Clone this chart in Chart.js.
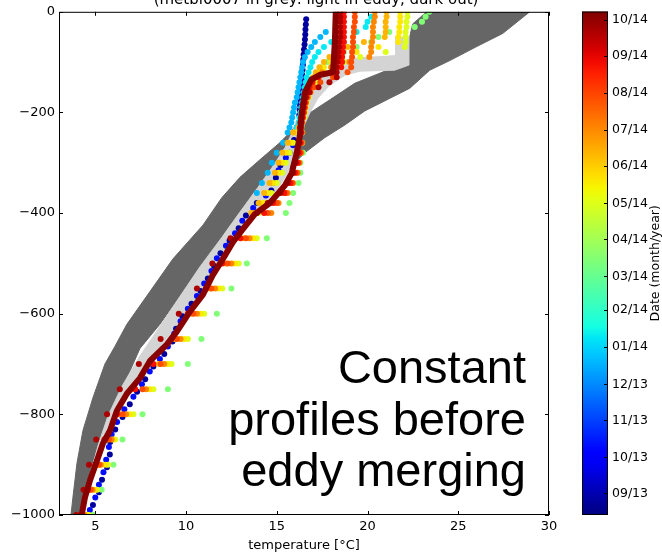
<!DOCTYPE html>
<html>
<head>
<meta charset="utf-8">
<script src="https://cdn.jsdelivr.net/npm/chart.js@4.4.1/dist/chart.umd.min.js"></script>
<style>
  html, body { margin: 0; padding: 0; background: #fff; }
  #wrap { position: relative; width: 662px; height: 553px; overflow: hidden; }
  #profiles { position: absolute; left: 0; top: 0; }
  #colorbar { position: absolute; left: 560px; top: 0; }
</style>
</head>
<body>
<div id="wrap">
  <canvas id="profiles" width="662" height="553"></canvas>
  <canvas id="colorbar" width="102" height="553"></canvas>
</div>
<script>
// axes
const xTicks = [5, 10, 15, 20, 25, 30];
const yTicks = [0, -200, -400, -600, -800, -1000];
const titleText = '(metbl0007 in grey: light in eddy, dark out)';
const noteLines = ['Constant', 'profiles before', 'eddy merging'];

// colorbar dates
const cbStart = '2013-08-14';
const cbEnd = '2014-10-08';
const monthTicks = ['2013-09-01', '2013-10-01', '2013-11-01', '2013-12-01', '2014-01-01', '2014-02-01', '2014-03-01',
  '2014-04-01', '2014-05-01', '2014-06-01', '2014-07-01', '2014-08-01', '2014-09-01', '2014-10-01'];

// metbl0007 outside the eddy (dark grey): cold and warm edge of the cloud
const outColdT = [23.26, 22.49, 22.33, 22.22, 21.78, 20.68, 19.30, 17.92, 16.82, 16.11, 15.17, 14.07, 12.97, 11.98, 10.93, 9.28, 8.01, 6.74, 6.08, 5.53, 4.87, 4.32, 3.99, 3.77, 3.66];
const outColdZ = [0, -24, -49, -83, -106, -122, -142, -175, -201, -225, -260, -294, -329, -369, -424, -491, -556, -621, -665, -700, -767, -832, -897, -964, -1000];
const outWarmT = [28.94, 27.45, 26.02, 24.53, 23.43, 22.33, 21.23, 19.85, 18.75, 17.65, 16.55, 15.72, 14.89, 14.18, 13.24, 12.42, 11.15, 9.83, 8.56, 7.46, 6.91, 6.19, 5.42, 4.87, 4.38, 4.10];
const outWarmZ = [0, -43, -69, -97, -116, -152, -172, -197, -225, -250, -280, -310, -339, -363, -392, -424, -491, -556, -621, -669, -714, -767, -832, -897, -964, -1000];
// metbl0007 inside the eddy (light grey)
const inColdT = [21.56, 21.56, 19.02, 18.2, 17.37, 16.71, 16.27, 15.89, 15.45, 14.73, 13.96, 12.97, 11.98, 10.76, 9.66, 8.56, 7.46, 6.47, 5.70, 5.15, 4.71, 4.30, 4.10];
const inColdZ = [-49, -87, -93, -106, -132, -166, -201, -237, -270, -310, -349, -398, -448, -507, -566, -625, -684, -744, -803, -862, -921, -980, -1000];
const inWarmT = [22.27, 22.27, 21.5, 19.58, 18.75, 17.92, 17.26, 16.82, 16.44, 16.11, 15.61, 15.17, 14.40, 13.63, 12.97, 12.42, 11.87, 11.32, 10.76, 10.05, 9.33, 8.73, 7.85, 7.30, 6.58, 6.03, 5.59, 5.26, 4.93, 4.60, 4.38, 4.21];
const inWarmZ = [-49, -106, -116, -118, -126, -146, -172, -201, -231, -260, -320, -345, -379, -402, -432, -458, -491, -523, -562, -596, -635, -661, -694, -728, -759, -793, -832, -858, -892, -931, -965, -1000];

// last float profile (thick dark red line)
const mainDate = '2014-10-05';
const mainT = [18.25, 18.2, 18.1, 17.4, 16.9, 16.55, 16.38, 16.27, 16.1, 15.83, 15.45, 14.62, 13.79, 13.13, 12.58, 12.03, 11.48, 10.93, 10.21, 9.5, 8.95, 8.01, 7.46, 6.74, 6.19, 5.81, 5.42, 5.09, 4.71, 4.43, 4.27];
const mainZ = [0, -60, -120, -125, -135, -160, -200, -247, -280, -320, -345, -380, -402, -432, -458, -491, -523, -562, -596, -635, -661, -694, -728, -759, -793, -832, -858, -892, -931, -965, -996];

// 2013 profiles, own sampling depths
const navyZ = [-15, -25, -35, -45, -55, -65, -75, -85, -95, -105, -115, -125, -135, -145, -155, -165, -175, -185, -195, -205,
  -230, -255, -280, -305, -330, -355, -380, -405, -430, -455, -480, -505, -530, -555, -580, -605, -630, -655, -680, -705,
  -730, -755, -780, -805, -830, -855, -880, -905, -930, -955, -980];
const navyT = [16.62, 16.6, 16.58, 16.57, 16.55, 16.53, 16.5, 16.48, 16.46, 16.44, 16.42, 16.4, 16.38, 16.36, 16.34, 16.32, 16.3, 16.28, 16.26, 16.24,
  16.1, 15.95, 15.7, 15.2, 14.95, 14.7, 13.9, 13.3, 12.9, 12.4, 11.9, 11.55, 11.2, 10.8, 10.3, 9.8, 9.45, 9.25, 8.8, 8.2,
  7.75, 7.3, 6.9, 6.5, 6.1, 5.82, 5.8, 5.64, 5.37, 5.2, 4.87];
const blueZ = [-240, -265, -290, -315, -340, -365, -390, -415, -440, -465, -490, -515, -540, -565, -590, -615, -640, -665,
  -690, -715, -740, -765, -790, -815, -840, -865, -890, -915, -940, -965, -990];
const blueT = [16.1, 15.9, 15.5, 15.1, 14.8, 14.4, 13.7, 13.1, 12.7, 12.2, 11.7, 11.4, 11.0, 10.6, 10.1, 9.7, 9.35, 9.0,
  8.56, 8.0, 7.57, 7.1, 6.6, 6.2, 5.9, 5.75, 5.6, 5.45, 5.2, 5.0, 4.7];

// 2014 float profiles: upper levels and the deeper sampled rows
const zTop = [0, -10, -20, -30, -40, -50, -60, -70, -80, -90, -100, -110, -120, -130, -140, -150, -160, -170, -180, -190, -200, -210, -220, -230];
const zRows = [-240, -260, -280, -300, -320, -340, -360, -380, -400, -450, -500, -550, -600, -650, -700, -750, -800, -850, -900, -950, -1000];

const dec20Top = [null, null, null, null, 17.7, 17.4, 17.1, 16.9, 16.7, 16.55, 16.45, 16.4, 16.35, 16.3, 16.25, 16.2, 16.15, 16.1, 16.0, 15.95, 15.9, 15.85, 15.8, 15.7];
const dec20Rows = [15.6, 15.35, 15.0, 14.73, 14.5, 14.18, 13.9, null, null, null, null, null, null, null, null, null, null, null, null, null, null];
const jan10Top = [null, 20.2, 20.0, 19.9, 19.4, 18.6, 18.0, 17.6, 17.3, 17.1, 16.95, 16.85, 16.75, 16.65, 16.6, 16.55, 16.5, 16.45, 16.4, 16.35, 16.3, 16.25, 16.2, 16.1];
const mar15Top = [23.4, 23.2, 23.0, 22.6, 21.2, 20.6, 20.2, 19.4, 18.7, 18.2, 17.8, 17.5, 17.3, 17.1, 16.95, 16.85, 16.75, 16.65, 16.6, 16.55, 16.5, 16.45, 16.4, 16.35];
const mar15Rows = [16.4, 16.4, 16.45, 16.3, 16.3, 16.2, 15.9, 15.7, 15.5, 14.45, 13.35, 12.5, 11.7, 10.85, 10.1, 9.0, 7.6, 6.5, 6.0, 5.35, 4.9];
const may01Top = [22.2, 22.2, 22.15, 22.15, 22.1, 22.1, 22.1, 22.05, 21.0, 19.6, 18.7, 18.0, 17.6, 17.3, 17.1, 16.95, 16.85, 16.75, 16.65, 16.6, 16.55, 16.5, 16.4, 16.35];
const may01Rows = [16.1, 15.9, 15.7, 15.5, 15.3, 15.0, 14.7, 14.4, 14.0, 13.9, 12.9, 12.0, 11.0, 10.1, 9.2, 8.2, 7.1, 6.1, 5.7, 5.1, 4.65];
const may20Top = [21.8, 21.8, 21.8, 21.75, 21.75, 21.7, 21.7, 20.6, 19.4, 18.6, 18.0, 17.6, 17.3, 17.1, 16.95, 16.85, 16.75, 16.65, 16.6, 16.55, 16.5, 16.45, 16.35, 16.3];
const may20Rows = [16.0, 15.8, 15.5, 15.3, 15.1, 14.8, 14.5, 14.2, 13.8, 13.7, 12.7, 11.8, 10.8, 9.9, 9.0, 8.0, 6.9, 6.0, 5.55, 5.0, 4.55];
const jun12Top = [21.05, 21.05, 21.0, 21.0, 21.0, 20.95, 19.8, 18.9, 18.3, 17.9, 17.6, 17.35, 17.15, 17.0, 16.9, 16.8, 16.7, 16.6, 16.55, 16.5, 16.45, 16.4, 16.3, 16.2];
const jun12Rows = [15.9, 15.6, 15.3, 15.1, 14.9, 14.6, 14.3, 14.0, 13.6, 13.2, 12.2, 11.3, 10.3, 9.4, 8.5, 7.0, 6.3, 5.65, 5.2, 4.7, 4.4];
const jul02Top = [20.4, 20.4, 20.35, 20.3, 20.3, 20.3, 20.25, 20.2, 20.2, 20.1, 19.0, 18.0, 17.5, 17.2, 17.0, 16.85, 16.75, 16.65, 16.6, 16.55, 16.5, 16.45, 16.4, 16.35];
const jul02Rows = [16.4, 16.4, 16.35, 16.25, 16.15, 15.9, 15.6, 15.1, 14.7, 13.5, 12.5, 11.6, 10.6, 9.7, 8.8, 7.8, 6.7, 5.9, 5.3, 4.85, 4.4];
const jul28Top = [19.3, 19.3, 19.3, 19.25, 19.25, 19.2, 19.2, 19.2, 19.15, 19.15, 19.1, 19.1, 18.9, 18.1, 17.4, 17.05, 16.85, 16.7, 16.6, 16.55, 16.5, 16.45, 16.4, 16.35];
const jul28Rows = [16.35, 16.35, 16.3, 16.2, 16.1, 15.85, 15.5, 15.0, 14.5, 13.3, 12.3, 11.4, 10.4, 9.5, 8.6, 7.6, 6.5, 5.75, 5.2, 4.75, 4.3];
const aug25Top = [18.7, 18.7, 18.7, 18.7, 18.7, 18.7, 18.7, 18.65, 18.65, 18.6, 18.6, 18.55, 18.0, 17.3, 16.95, 16.8, 16.7, 16.6, 16.55, 16.5, 16.45, 16.4, 16.35, 16.3];
const aug25Rows = [16.35, 16.3, 16.25, 16.15, 16.0, 15.75, 15.4, 14.8, 14.3, 13.0, 12.0, 11.1, 10.1, 9.2, 8.2, 7.2, 6.2, 5.5, 5.0, 4.6, 4.15];
const sep22Top = [18.5, 18.5, 18.5, 18.5, 18.5, 18.5, 18.45, 18.45, 18.4, 18.4, 18.35, 18.3, 18.3, 18.3, 17.9, 17.3, 16.8, 16.6, 16.5, 16.45, 16.4, 16.35, 16.3, 16.3];
const sep22Rows = [16.3, 16.25, 16.15, 16.05, 15.9, 15.6, 15.2, 14.5, 13.9, 12.45, 11.45, 10.6, 9.6, 8.6, 7.4, 6.35, 5.65, 5.05, 4.65, 4.35, 3.95];

const profiles = [
  { date: '2013-08-25', t: navyT, z: navyZ },
  { date: '2013-10-10', t: blueT, z: blueZ },
  { date: '2013-12-20', t: [...dec20Top, ...dec20Rows], z: [...zTop, ...zRows] },
  { date: '2014-01-10', t: jan10Top, z: zTop },
  { date: '2014-03-15', t: [...mar15Top, ...mar15Rows], z: [...zTop, ...zRows] },
  { date: '2014-05-01', t: [...may01Top, ...may01Rows], z: [...zTop, ...zRows] },
  { date: '2014-05-20', t: [...may20Top, ...may20Rows], z: [...zTop, ...zRows] },
  { date: '2014-06-12', t: [...jun12Top, ...jun12Rows], z: [...zTop, ...zRows] },
  { date: '2014-07-02', t: [...jul02Top, ...jul02Rows], z: [...zTop, ...zRows] },
  { date: '2014-07-28', t: [...jul28Top, ...jul28Rows], z: [...zTop, ...zRows] },
  { date: '2014-08-25', t: [...aug25Top, ...aug25Rows], z: [...zTop, ...zRows] },
  { date: '2014-09-22', t: [...sep22Top, ...sep22Rows], z: [...zTop, ...zRows] },
];

// matplotlib jet
const JET = {
  r: [[0, 0], [0.35, 0], [0.66, 1], [0.89, 1], [1, 0.5]],
  g: [[0, 0], [0.125, 0], [0.375, 1], [0.64, 1], [0.91, 0], [1, 0]],
  b: [[0, 0.5], [0.11, 1], [0.34, 1], [0.65, 0], [1, 0]],
};
function channel(stops, v) {
  for (let i = 1; i < stops.length; i++) {
    const [x0, y0] = stops[i - 1];
    const [x1, y1] = stops[i];
    if (v <= x1) return y0 + (y1 - y0) * (v - x0) / (x1 - x0);
  }
  return stops[stops.length - 1][1];
}
function jet(v) {
  v = Math.min(1, Math.max(0, v));
  const c = (k) => Math.round(255 * channel(JET[k], v));
  return `rgb(${c('r')},${c('g')},${c('b')})`;
}

const dayOf = (s) => Date.parse(s + 'T00:00:00Z') / 86400000;
const cbSpan = dayOf(cbEnd) - dayOf(cbStart);
const dateColor = (s) => jet((dayOf(s) - dayOf(cbStart)) / cbSpan);
const toPoints = (t, z) => t.map((v, i) => ({ x: v, y: z[i] })).filter((p) => p.x !== null);

Chart.defaults.font.family = '"DejaVu Sans", sans-serif';
Chart.defaults.color = '#000';

const DARK = 'rgb(102,102,102)';
const LIGHT = 'rgb(212,212,212)';

function band(coldT, coldZ, warmT, warmZ, color, order) {
  const base = { indexAxis: 'y', showLine: true, pointRadius: 0, borderWidth: 1, borderColor: color, backgroundColor: color, order };
  return [
    { ...base, data: toPoints(coldT, coldZ), fill: false },
    { ...base, data: toPoints(warmT, warmZ), fill: '-1' },
  ];
}

const datasets = [
  ...band(outColdT, outColdZ, outWarmT, outWarmZ, DARK, 100),
  ...band(inColdT, inColdZ, inWarmT, inWarmZ, LIGHT, 90),
  ...profiles.map((p, i) => ({
    indexAxis: 'y',
    data: toPoints(p.t, p.z),
    pointRadius: 3,
    pointBorderWidth: 0,
    backgroundColor: dateColor(p.date),
    order: 50 - i,
  })),
  {
    indexAxis: 'y',
    data: toPoints(mainT, mainZ),
    showLine: true,
    borderWidth: 6,
    borderColor: dateColor(mainDate),
    borderJoinStyle: 'round',
    borderCapStyle: 'round',
    pointRadius: 0,
    order: 0,
  },
];

const frameTicks = {
  id: 'frameTicks',
  afterDatasetsDraw(chart) {
    const { ctx, chartArea: a, scales: { x, y } } = chart;
    ctx.save();
    ctx.strokeStyle = '#000';
    ctx.lineWidth = 1;
    ctx.beginPath();
    xTicks.forEach((v) => {
      const px = Math.round(x.getPixelForValue(v)) + 0.5;
      ctx.moveTo(px, a.bottom); ctx.lineTo(px, a.bottom - 4);
      ctx.moveTo(px, a.top); ctx.lineTo(px, a.top + 4);
    });
    yTicks.forEach((v) => {
      const py = Math.round(y.getPixelForValue(v)) + 0.5;
      ctx.moveTo(a.left, py); ctx.lineTo(a.left + 4, py);
      ctx.moveTo(a.right, py); ctx.lineTo(a.right - 4, py);
    });
    ctx.stroke();
    ctx.strokeRect(a.left + 0.5, a.top + 0.5, a.width - 1, a.height - 1);
    ctx.restore();
  },
};

const notes = {
  id: 'notes',
  afterDraw(chart) {
    const { ctx } = chart;
    ctx.save();
    ctx.fillStyle = '#000';
    ctx.font = '15px "DejaVu Sans"';
    ctx.textAlign = 'center';
    ctx.textBaseline = 'alphabetic';
    ctx.fillText(titleText, 316, 4);
    ctx.font = '47px "Liberation Sans"';
    ctx.textAlign = 'right';
    noteLines.forEach((s, i) => ctx.fillText(s, 526, 383 + i * 51.5));
    ctx.restore();
  },
};

new Chart(document.getElementById('profiles'), {
  type: 'scatter',
  data: { datasets },
  options: {
    responsive: false,
    animation: false,
    events: [],
    indexAxis: 'y',
    layout: { padding: { top: 8, right: 113, left: 0, bottom: 0 } },
    plugins: { legend: { display: false }, tooltip: { enabled: false } },
    scales: {
      x: {
        type: 'linear', min: 3, max: 30,
        afterBuildTicks: (s) => { s.ticks = xTicks.map((value) => ({ value })); },
        afterFit: (s) => { s.height = 38; },
        ticks: { font: { size: 13 }, padding: 4, maxRotation: 0, autoSkip: false },
        grid: { display: false, drawTicks: false },
        border: { display: false },
        title: { display: true, text: 'temperature [°C]', font: { size: 13 }, padding: { top: 0, bottom: 0 } },
      },
      y: {
        type: 'linear', min: -1000, max: 0,
        afterBuildTicks: (s) => { s.ticks = yTicks.map((value) => ({ value })); },
        afterFit: (s) => { s.width = 59; },
        ticks: { font: { size: 13 }, padding: 4, callback: (v) => (v < 0 ? '\u2212' + (-v) : String(v)) },
        grid: { display: false, drawTicks: false },
        border: { display: false },
      },
    },
  },
  plugins: [frameTicks, notes],
});

// colorbar
const monthDays = monthTicks.map((s) => dayOf(s) - dayOf(cbStart));
const monthLabels = monthTicks.map((s) => s.slice(5, 7) + '/' + s.slice(2, 4));

function jetGradient(chart) {
  const a = chart.chartArea;
  if (!a) return jet(0.5);
  const g = chart.ctx.createLinearGradient(0, a.bottom, 0, a.top);
  for (let i = 0; i <= 40; i++) g.addColorStop(i / 40, jet(i / 40));
  return g;
}

const cbDecor = {
  id: 'cbDecor',
  afterDatasetsDraw(chart) {
    const { ctx, chartArea: a, scales: { y } } = chart;
    ctx.save();
    ctx.strokeStyle = '#000';
    ctx.lineWidth = 1;
    ctx.strokeRect(a.left + 0.5, a.top + 0.5, a.width - 1, a.height - 1);
    ctx.beginPath();
    monthDays.forEach((v) => {
      const py = Math.round(y.getPixelForValue(v)) + 0.5;
      ctx.moveTo(a.right, py); ctx.lineTo(a.right - 4, py);
    });
    ctx.stroke();
    ctx.fillStyle = '#000';
    ctx.font = '12.5px "DejaVu Sans"';
    ctx.textAlign = 'center';
    ctx.textBaseline = 'middle';
    ctx.translate(96, (a.top + a.bottom) / 2);
    ctx.rotate(-Math.PI / 2);
    ctx.fillText('Date (month/year)', 0, 0);
    ctx.restore();
  },
};

new Chart(document.getElementById('colorbar'), {
  type: 'bar',
  data: {
    labels: [''],
    datasets: [{
      data: [[0, cbSpan]],
      backgroundColor: (ctx) => jetGradient(ctx.chart),
      borderWidth: 0,
      barPercentage: 1,
      categoryPercentage: 1,
    }],
  },
  options: {
    responsive: false,
    animation: false,
    events: [],
    layout: { padding: { left: 22, top: 8, bottom: 38, right: 0 } },
    plugins: { legend: { display: false }, tooltip: { enabled: false } },
    scales: {
      x: { display: false },
      y: {
        position: 'right', min: 0, max: cbSpan,
        afterBuildTicks: (s) => { s.ticks = monthDays.map((value) => ({ value })); },
        afterFit: (s) => { s.width = 54; },
        ticks: { font: { size: 12.5 }, padding: 4, autoSkip: false, callback: (v, i) => monthLabels[i] },
        grid: { display: false, drawTicks: false },
        border: { display: false },
      },
    },
  },
  plugins: [cbDecor],
});
</script>
</body>
</html>
